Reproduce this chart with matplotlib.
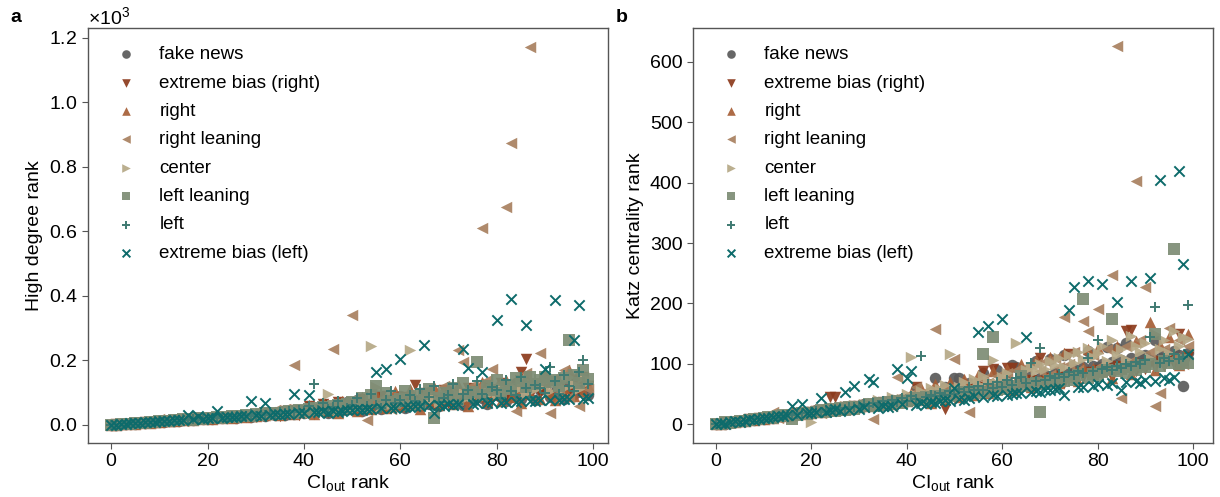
import numpy as np
import matplotlib
matplotlib.use("Agg")
import matplotlib.pyplot as plt
import matplotlib.ticker as ticker

plt.rcParams['font.family'] = ['Liberation Sans', 'DejaVu Sans']
plt.rcParams['mathtext.fontset'] = 'custom'
plt.rcParams['mathtext.rm'] = 'Liberation Sans'
plt.rcParams['mathtext.it'] = 'Liberation Sans:italic'
plt.rcParams['mathtext.bf'] = 'Liberation Sans:bold'

# CI_out rank (x axis), same for every category
ci_rank = list(range(100))

labels = ["fake news", "extreme bias (right)", "right", "right leaning",
          "center", "left leaning", "left", "extreme bias (left)"]

# ---- panel a: high degree rank ----
fake_a = [0, 1, 3, 2, 5, 4, 7, 6, 9, 8,
          11, 10, 14, 12, 13, 17, 15, 16, 20, 18,
          22, 19, 25, 21, 24, 28, 23, 27, 31, 26,
          30, 34, 28, 36, 32, 39, 30, 42, 35, 45,
          38, 55, 42, 48, 65, 36, 52, 60, 45, 70,
          50, 78, 44, 62, 56, 85, 48, 66, 72, 58,
          90, 54, 68, 76, 60, 98, 64, 82, 58, 74,
          105, 70, 88, 62, 95, 78, 112, 84, 66, 100,
          92, 118, 74, 86, 130, 80, 98, 124, 76, 108,
          140, 88, 102, 115, 82, 125, 96, 150, 110, 92]
ebr_a = [0, 2, 1, 4, 3, 6, 5, 8, 7, 10,
         9, 12, 11, 15, 13, 14, 18, 16, 20, 17,
         23, 19, 22, 26, 21, 29, 24, 28, 25, 32,
         27, 35, 30, 38, 33, 29, 42, 36, 45, 31,
         40, 58, 34, 44, 66, 39, 47, 72, 43, 50,
         60, 46, 80, 64, 49, 58, 90, 53, 62, 72,
         57, 86, 76, 124, 61, 98, 80, 65, 74, 108,
         69, 92, 88, 73, 115, 92, 77, 86, 125, 81,
         90, 130, 85, 94, 104, 165, 204, 89, 118, 98,
         112, 93, 135, 116, 97, 106, 140, 101, 150, 120]
right_a = [1, 0, 3, 2, 5, 4, 6, 8, 7, 10,
           9, 13, 11, 12, 16, 14, 18, 15, 20, 17,
           22, 19, 24, 21, 27, 23, 26, 30, 25, 33,
           28, 36, 31, 34, 39, 32, 42, 37, 35, 46,
           40, 62, 35, 51, 70, 44, 58, 38, 75, 49,
           66, 42, 88, 55, 48, 95, 60, 52, 80, 105,
           58, 72, 110, 64, 50, 92, 76, 118, 61, 84,
           98, 66, 125, 79, 58, 112, 90, 132, 70, 101,
           122, 75, 140, 88, 108, 68, 150, 95, 128, 82,
           160, 100, 78, 135, 115, 170, 90, 145, 105, 125]
rl_a = [1, 0, 3, 2, 4, 6, 5, 8, 7, 9,
        18, 12, 11, 14, 16, 13, 15, 19, 17, 21,
        20, 23, 22, 25, 27, 24, 30, 28, 32, 26,
        35, 29, 38, 40, 45, 33, 48, 42, 185, 36,
        50, 44, 55, 39, 60, 52, 236, 47, 65, 58,
        341, 62, 54, 15, 70, 58, 80, 66, 48, 75,
        85, 64, 90, 72, 68, 95, 110, 78, 100, 120,
        82, 105, 232, 196, 90, 125, 115, 612, 140, 173,
        95, 130, 677, 875, 42, 110, 160, 1172, 120, 224,
        130, 37, 145, 100, 170, 88, 120, 60, 150, 110]
center_a = [0, 2, 1, 3, 5, 4, 7, 6, 8, 10,
            9, 11, 13, 12, 14, 16, 15, 17, 19, 18,
            20, 22, 24, 21, 26, 23, 28, 25, 30, 27,
            32, 29, 34, 36, 31, 38, 33, 40, 42, 35,
            44, 37, 48, 41, 46, 95, 50, 43, 52, 55,
            48, 58, 62, 54, 245, 118, 60, 66, 64, 70,
            68, 72, 232, 75, 62, 80, 78, 85, 70, 92,
            88, 82, 95, 100, 86, 90, 105, 98, 92, 110,
            95, 115, 102, 120, 108, 125, 100, 130, 112, 118,
            135, 105, 140, 122, 115, 150, 128, 110, 148, 132]
ll_a = [0, 1, 2, 4, 4, 6, 7, 7, 9, 10,
        11, 13, 12, 15, 14, 17, 18, 16, 20, 19,
        22, 21, 24, 23, 26, 27, 25, 29, 30, 28,
        33, 31, 36, 34, 38, 35, 40, 42, 37, 45,
        43, 48, 52, 47, 55, 50, 58, 62, 53, 66,
        70, 60, 85, 57, 92, 120, 64, 98, 75, 68,
        80, 105, 72, 90, 66, 95, 110, 22, 85, 100,
        88, 115, 78, 130, 95, 102, 195, 92, 120, 108,
        140, 98, 125, 110, 145, 135, 118, 150, 128, 140,
        150, 132, 138, 120, 145, 262, 155, 130, 170, 142]
left_a = [0, 2, 1, 3, 5, 4, 7, 6, 9, 8,
          11, 10, 13, 15, 12, 17, 14, 19, 16, 21,
          18, 23, 20, 26, 22, 28, 24, 31, 27, 33,
          29, 36, 32, 38, 34, 41, 37, 44, 39, 47,
          42, 58, 127, 45, 68, 48, 56, 74, 40, 54,
          62, 84, 48, 60, 95, 63, 52, 76, 104, 69,
          77, 58, 92, 75, 112, 64, 86, 120, 70, 84,
          92, 128, 66, 96, 108, 75, 136, 96, 82, 118,
          107, 85, 140, 105, 92, 148, 116, 88, 125, 114,
          98, 180, 135, 95, 155, 120, 105, 165, 200, 126]
ebl_a = [0, 1, 3, 3, 5, 5, 6, 8, 9, 10,
         11, 12, 13, 14, 15, 16, 30, 18, 28, 19,
         21, 22, 43, 23, 25, 24, 26, 27, 28, 74,
         30, 29, 68, 31, 34, 32, 35, 33, 96, 36,
         38, 94, 40, 39, 42, 37, 44, 41, 43, 46,
         45, 48, 47, 50, 49, 165, 52, 172, 51, 54,
         203, 55, 57, 59, 58, 248, 61, 37, 63, 60,
         64, 62, 66, 235, 176, 65, 68, 163, 67, 70,
         325, 69, 72, 390, 71, 73, 310, 75, 74, 76,
         173, 78, 387, 77, 80, 79, 264, 371, 81, 83]

# ---- panel b: Katz centrality rank ----
fake_b = [0, 2, 1, 4, 3, 6, 5, 8, 7, 10,
          9, 12, 11, 14, 13, 16, 15, 18, 17, 20,
          19, 23, 21, 25, 22, 27, 24, 29, 26, 31,
          28, 33, 30, 35, 32, 37, 34, 40, 36, 42,
          38, 45, 58, 48, 43, 51, 76, 46, 62, 49,
          76, 76, 52, 68, 55, 63, 85, 66, 61, 90,
          64, 72, 98, 95, 70, 89, 73, 104, 76, 82,
          108, 85, 82, 115, 85, 91, 88, 94, 122, 97,
          94, 100, 128, 103, 126, 106, 134, 109, 103, 112,
          114, 106, 140, 109, 118, 112, 121, 115, 64, 118]
ebr_b = [0, 1, 3, 2, 4, 6, 5, 8, 7, 10,
         9, 12, 11, 14, 13, 16, 15, 18, 17, 20,
         19, 22, 21, 24, 45, 45, 23, 28, 25, 30,
         27, 32, 29, 34, 31, 37, 33, 39, 35, 41,
         38, 44, 62, 46, 40, 48, 43, 51, 26, 53,
         47, 56, 50, 58, 52, 61, 88, 63, 91, 57,
         66, 93, 93, 60, 70, 64, 73, 67, 109, 71,
         77, 74, 80, 69, 117, 76, 83, 79, 87, 81,
         90, 84, 93, 78, 96, 86, 154, 156, 89, 99,
         92, 102, 95, 105, 97, 108, 100, 150, 103, 111]
right_b = [1, 0, 2, 4, 3, 6, 5, 8, 7, 10,
           9, 12, 11, 14, 13, 16, 15, 18, 17, 20,
           19, 22, 21, 24, 23, 27, 25, 29, 26, 31,
           28, 33, 30, 36, 32, 38, 34, 40, 37, 43,
           39, 52, 41, 60, 44, 36, 66, 53, 42, 70,
           51, 45, 75, 60, 48, 82, 59, 52, 88, 68,
           64, 92, 56, 73, 100, 75, 62, 106, 74, 80,
           112, 83, 68, 118, 81, 88, 72, 95, 124, 93,
           126, 88, 95, 76, 130, 93, 100, 84, 138, 98,
           105, 170, 90, 131, 108, 145, 111, 98, 114, 150]
rl_b = [0, 2, 1, 4, 3, 6, 5, 8, 7, 10,
        9, 12, 21, 11, 14, 13, 16, 15, 18, 17,
        20, 23, 19, 25, 22, 27, 24, 30, 26, 32,
        28, 34, 36, 9, 38, 31, 40, 30, 78, 42,
        45, 50, 62, 48, 55, 52, 157, 58, 47, 60,
        108, 65, 55, 20, 70, 62, 75, 68, 58, 80,
        72, 85, 66, 90, 78, 95, 70, 100, 88, 105,
        82, 110, 95, 177, 100, 120, 90, 171, 155, 115,
        190, 98, 125, 247, 627, 43, 130, 105, 403, 140,
        228, 120, 31, 51, 125, 160, 110, 140, 100, 130]
center_b = [1, 0, 2, 3, 5, 4, 7, 6, 9, 8,
            11, 10, 13, 12, 15, 14, 17, 16, 19, 18,
            3, 22, 24, 21, 26, 28, 25, 30, 27, 32,
            29, 34, 31, 36, 40, 33, 38, 45, 35, 42,
            50, 111, 48, 55, 44, 60, 52, 58, 65, 116,
            56, 62, 70, 58, 75, 66, 80, 72, 106, 68,
            78, 85, 70, 134, 82, 90, 95, 88, 100, 92,
            105, 98, 110, 95, 115, 102, 120, 108, 126, 112,
            118, 130, 105, 140, 115, 125, 108, 146, 130, 120,
            135, 110, 150, 125, 140, 118, 155, 130, 145, 141]
ll_b = [0, 1, 3, 2, 4, 6, 5, 7, 9, 8,
        10, 12, 11, 13, 15, 14, 8, 16, 18, 17,
        19, 21, 23, 20, 25, 22, 27, 24, 29, 26,
        28, 31, 33, 30, 35, 32, 37, 34, 39, 36,
        38, 41, 43, 40, 45, 42, 47, 44, 49, 46,
        48, 51, 53, 50, 55, 52, 116, 54, 144, 56,
        58, 62, 64, 60, 80, 63, 66, 68, 20, 67,
        70, 73, 75, 72, 78, 74, 82, 208, 76, 84,
        80, 86, 90, 174, 88, 92, 85, 95, 90, 98,
        94, 100, 150, 97, 104, 102, 290, 99, 106, 101]
left_b = [0, 2, 1, 3, 4, 6, 5, 7, 8, 10,
          9, 11, 13, 12, 14, 16, 15, 17, 19, 18,
          20, 22, 21, 24, 23, 25, 27, 26, 29, 28,
          31, 33, 30, 36, 32, 38, 34, 41, 37, 43,
          39, 46, 42, 113, 45, 49, 47, 52, 48, 55,
          50, 58, 53, 61, 56, 64, 57, 67, 60, 70,
          62, 73, 65, 76, 78, 68, 101, 71, 126, 74,
          80, 77, 83, 79, 86, 82, 89, 85, 110, 88,
          139, 91, 94, 90, 97, 93, 100, 96, 103, 99,
          106, 144, 194, 102, 109, 105, 116, 108, 112, 198]
ebl_b = [0, 2, 1, 3, 5, 4, 6, 8, 7, 9,
         10, 11, 12, 14, 13, 15, 30, 16, 34, 18,
         19, 21, 43, 20, 23, 25, 22, 53, 24, 64,
         26, 28, 75, 70, 27, 30, 29, 31, 92, 33,
         77, 89, 32, 35, 34, 37, 36, 38, 40, 39,
         60, 42, 41, 44, 46, 152, 45, 162, 48, 47,
         174, 49, 50, 52, 51, 144, 53, 55, 54, 57,
         56, 58, 60, 48, 189, 228, 62, 61, 237, 64,
         66, 232, 65, 68, 203, 56, 70, 237, 72, 69,
         74, 242, 71, 404, 76, 73, 78, 420, 265, 116]

series_a = [fake_a, ebr_a, right_a, rl_a, center_a, ll_a, left_a, ebl_a]
series_b = [fake_b, ebr_b, right_b, rl_b, center_b, ll_b, left_b, ebl_b]

colors = ['#5a5a5a', '#8c3a1c', '#a65e36', '#a8805f',
          '#b5a886', '#7d8c74', '#3f7a72', '#0d6b6b']
markers = ['o', 'v', '^', '<', '>', 's', '+', 'x']


def plot_panel(ax, series):
    for vals, lab, col, mk in zip(series, labels, colors, markers):
        if mk in ('+', 'x'):
            ax.scatter(ci_rank, vals, s=55, marker=mk, color=col,
                       linewidths=1.4, label=lab)
        else:
            ax.scatter(ci_rank, vals, s=68, marker=mk, color=col,
                       linewidths=0, alpha=0.92, label=lab)
    ax.set_xlabel(r"CI$_{\rm out}$ rank", fontsize=14, labelpad=2)
    ax.set_xticks([0, 20, 40, 60, 80, 100])
    ax.tick_params(axis='both', labelsize=14, direction='out', length=4,
                   color='#555555')
    for sp in ax.spines.values():
        sp.set_color('#555555')
        sp.set_linewidth(1.0)
    ax.legend(loc='upper left', frameon=False, fontsize=13.5,
              markerscale=0.75, handletextpad=1.3, labelspacing=0.6,
              handlelength=1.0, borderaxespad=0.5,
              bbox_to_anchor=(0.022, 0.997))


fig = plt.figure(figsize=(12.2, 4.97), dpi=100)
ax1 = fig.add_axes([88 / 1220, 1 - 443 / 497, (608 - 88) / 1220, (443 - 28) / 497])
ax2 = fig.add_axes([693 / 1220, 1 - 443 / 497, (1213 - 693) / 1220, (443 - 28) / 497])

plot_panel(ax1, series_a)
ax1.set_xlim(-4.8, 103.1)
ax1.set_ylim(-56, 1231)
ax1.set_yticks([0, 200, 400, 600, 800, 1000, 1200])
fmt = ticker.ScalarFormatter(useMathText=True)
fmt.set_powerlimits((0, 0))
ax1.yaxis.set_major_formatter(fmt)
ax1.yaxis.get_offset_text().set_fontsize(14)
ax1.set_ylabel("High degree rank", fontsize=14)

plot_panel(ax2, series_b)
ax2.set_xlim(-4.8, 104.2)
ax2.set_ylim(-31, 656)
ax2.set_yticks([0, 100, 200, 300, 400, 500, 600])
ax2.set_ylabel("Katz centrality rank", fontsize=14)

fig.text(10 / 1220, 1 - 18 / 497, "a", fontsize=14, fontweight='bold', va='center')
fig.text(616 / 1220, 1 - 18 / 497, "b", fontsize=14, fontweight='bold', va='center')

fig.savefig("out.png", dpi=100)
